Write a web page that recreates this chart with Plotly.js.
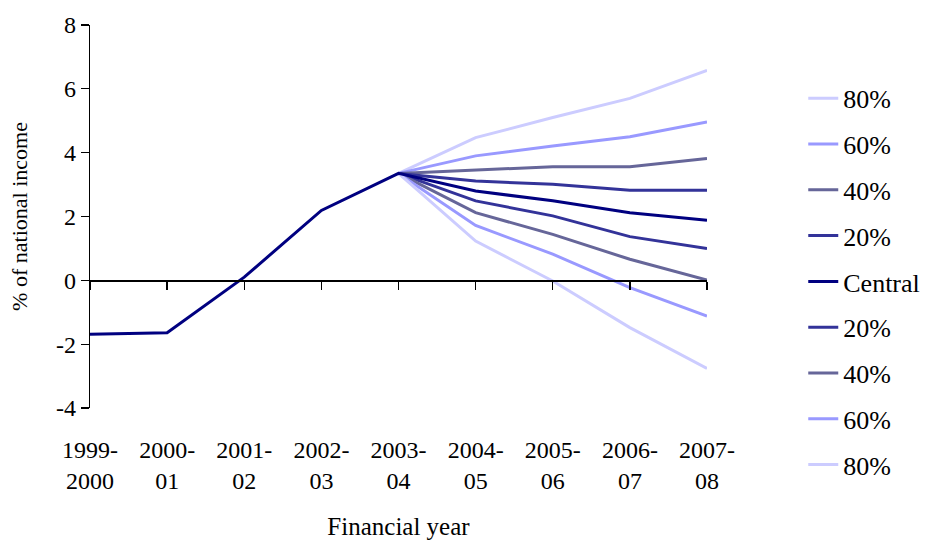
<!DOCTYPE html>
<html>
<head>
<meta charset="utf-8">
<script src="https://cdn.plot.ly/plotly-3.0.1.min.js"></script>
<style>
html,body{margin:0;padding:0;background:#fff;font-family:'Liberation Serif',serif;}
#chart{width:937px;height:540px;}
#chart text{font-family:'Liberation Serif',serif !important;}
</style>
</head>
<body>
<div id="chart"></div>
<script>
// ---- data ----
var categories = ['1999-2000','2000-01','2001-02','2002-03','2003-04','2004-05','2005-06','2006-07','2007-08'];
var tickLabels = ['1999-<br>2000','2000-<br>01','2001-<br>02','2002-<br>03','2003-<br>04','2004-<br>05','2005-<br>06','2006-<br>07','2007-<br>08'];
var yTickVals = [-4, -2, 0, 2, 4, 6, 8];
var yTickText = ['-4', '-2', '0', '2', '4', '6', '8'];

var central  = [-1.69, -1.64, 0.10, 2.19, 3.35, 2.80, 2.49, 2.12, 1.88];
var upper80  = [null, null, null, null, 3.35, 4.47, 5.10, 5.70, 6.58];
var upper60  = [null, null, null, null, 3.35, 3.90, 4.21, 4.50, 4.96];
var upper40  = [null, null, null, null, 3.35, 3.46, 3.56, 3.56, 3.82];
var upper20  = [null, null, null, null, 3.35, 3.11, 3.01, 2.82, 2.82];
var lower20  = [null, null, null, null, 3.35, 2.49, 2.02, 1.37, 1.00];
var lower40  = [null, null, null, null, 3.35, 2.12, 1.44, 0.66, 0.01];
var lower60  = [null, null, null, null, 3.35, 1.72, 0.82, -0.23, -1.12];
var lower80  = [null, null, null, null, 3.35, 1.23, -0.02, -1.48, -2.76];

var seriesNames = ['80%','60%','40%','20%','Central','20%','40%','60%','80%'];
var seriesData  = [upper80, upper60, upper40, upper20, central, lower20, lower40, lower60, lower80];
var seriesColors = ['#ccccff','#9999ff','#666699','#333399','#000080','#333399','#666699','#9999ff','#ccccff'];

var drawOrder = [0,1,2,3,5,6,7,8,4]; // central drawn last (on top)
var traces = drawOrder.map(function(i){
  return {
    type: 'scatter', mode: 'lines',
    x: categories, y: seriesData[i],
    name: seriesNames[i],
    legendgroup: 'g' + i,
    legendrank: i + 1,
    line: {color: seriesColors[i], width: 3},
    xaxis: 'x', yaxis: 'y',
    hoverinfo: 'skip'
  };
});

// invisible carrier for the axis that crosses at zero
traces.push({type:'scatter', mode:'lines', x: categories, y: categories.map(function(){return null;}),
  xaxis:'x2', yaxis:'y', showlegend:false, hoverinfo:'skip'});

var layout = {
  width: 937, height: 540,
  margin: {l: 90, r: 221, t: 25, b: 132},
  paper_bgcolor: '#ffffff', plot_bgcolor: '#ffffff',
  font: {family: 'Liberation Serif', color: '#000000', size: 24},
  showlegend: true,
  legend: {
    x: 1.156, xanchor: 'left', y: 0.87, yanchor: 'top',
    traceorder: 'grouped', tracegroupgap: 9, maxheight: 520,
    font: {family: 'Liberation Serif', size: 26, color: '#000000'},
    bgcolor: 'rgba(0,0,0,0)'
  },
  xaxis: {
    type: 'category', categoryorder: 'array', categoryarray: categories,
    range: [0, categories.length - 1],
    tickmode: 'array', tickvals: categories, ticktext: tickLabels,
    showline: false, showgrid: false, zeroline: false,
    ticks: 'outside', ticklen: 20, tickcolor: 'rgba(0,0,0,0)',
    tickfont: {family: 'Liberation Serif', size: 24, color: '#000000'},
    title: {text: 'Financial year', font: {family: 'Liberation Serif', size: 25, color: '#000000'}, standoff: 24},
    fixedrange: true
  },
  xaxis2: {
    type: 'category', categoryorder: 'array', categoryarray: categories,
    range: [0, categories.length - 1],
    overlaying: 'x', anchor: 'free', position: 1/3, side: 'bottom',
    showline: true, linecolor: '#000000', linewidth: 1.3,
    ticks: 'outside', ticklen: 8, tickwidth: 1.3, tickcolor: '#000000',
    showticklabels: false, showgrid: false, zeroline: false,
    fixedrange: true
  },
  yaxis: {
    range: [-4, 8], tickmode: 'array', tickvals: yTickVals, ticktext: yTickText,
    showline: true, linecolor: '#000000', linewidth: 1.3,
    ticks: 'outside', ticklen: 8, tickwidth: 1.3, tickcolor: '#000000',
    showgrid: false, zeroline: false,
    tickfont: {family: 'Liberation Serif', size: 24, color: '#000000'},
    title: {text: '% of national income', font: {family: 'Liberation Serif', size: 22, color: '#000000'}, standoff: 22},
    fixedrange: true
  }
};

Plotly.newPlot('chart', traces, layout, {displayModeBar: false, staticPlot: true});
</script>
</body>
</html>
